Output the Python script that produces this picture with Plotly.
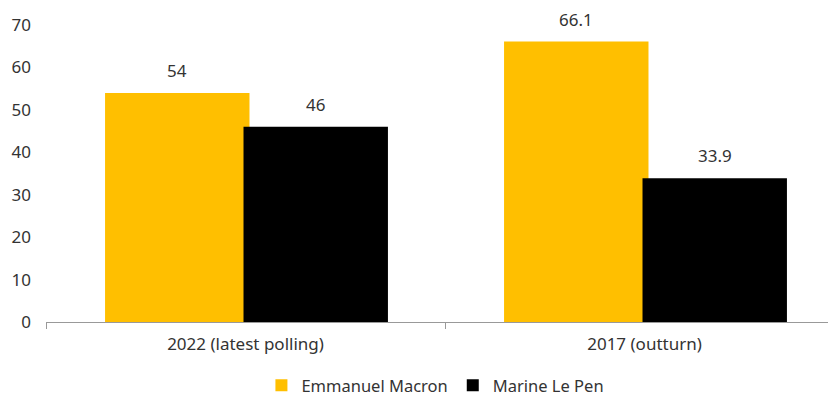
import plotly.graph_objects as go

categories = ["2022 (latest polling)", "2017 (outturn)"]
macron = [54, 66.1]
lepen = [46, 33.9]
macron_labels = ["54", "66.1"]
lepen_labels = ["46", "33.9"]

font = "Noto Sans"
tc = "#333333"
bw = 0.362
off_m = -0.352
off_l = -0.005

fig = go.Figure()
fig.add_trace(go.Bar(name="Emmanuel Macron", x=categories, y=macron, marker_color="#FFBF00",
                     marker_line_width=0, width=bw, offset=off_m))
fig.add_trace(go.Bar(name="Marine Le Pen", x=categories, y=lepen, marker_color="#000000",
                     marker_line_width=0, width=bw, offset=off_l))

for i, c in enumerate(categories):
    for vals, labs, off in ((macron, macron_labels, off_m), (lepen, lepen_labels, off_l)):
        fig.add_annotation(x=i + off + bw / 2, y=vals[i], text=labs[i], showarrow=False,
                           xref="x", yref="y", yanchor="bottom", yshift=9,
                           font=dict(size=17, color=tc, family=font))

fig.update_layout(
    width=836, height=390,
    margin=dict(l=38, r=0, t=17, b=76, autoexpand=False),
    barmode="overlay",
    plot_bgcolor="white", paper_bgcolor="white",
    font=dict(family=font, size=17, color=tc),
    showlegend=True,
    legend=dict(orientation="h", x=0.488, xanchor="center", y=-0.214, yanchor="middle",
                font=dict(size=16.5, color=tc, family=font), itemwidth=30,
                tracegroupgap=0, borderwidth=0),
    xaxis=dict(showline=True, linecolor="#999999", linewidth=1, ticks="outside",
               tickson="boundaries", tickcolor="#999999", ticklen=6,
               tickfont=dict(size=17, color=tc), showgrid=False, automargin=False,
               range=[-0.5, 1.5], ticklabelstandoff=7),
    yaxis=dict(range=[0, 70], dtick=10, showgrid=False, zeroline=False, showline=False,
               tickfont=dict(size=17, color=tc), ticklabelstandoff=14, automargin=False),
)
fig.write_html("out.html")
